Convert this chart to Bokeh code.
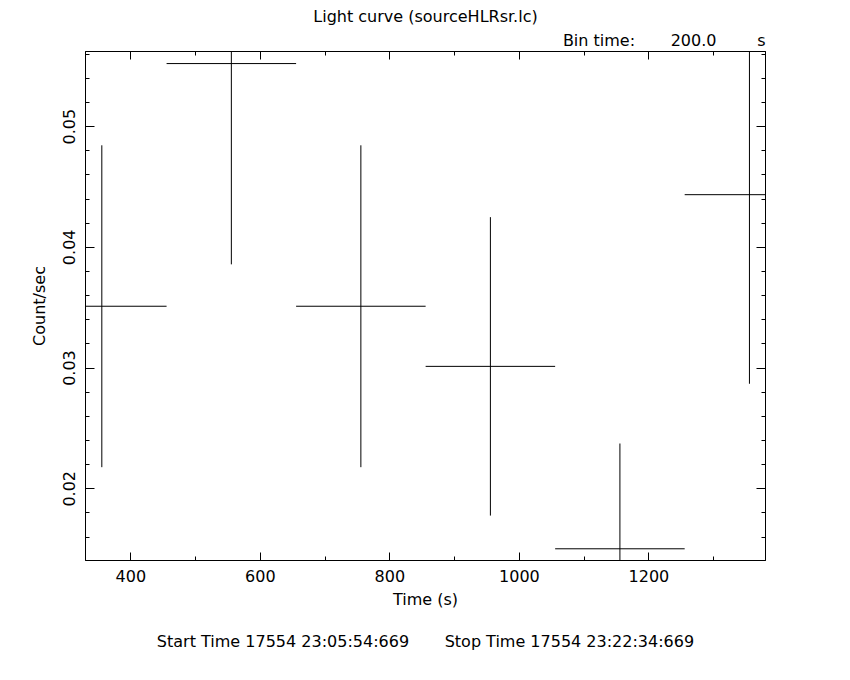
from bokeh.plotting import figure
from bokeh.models import (Range1d, LinearAxis, SingleIntervalTicker, Title,
                          CustomJSTickFormatter, PrintfTickFormatter, ColumnDataSource)
from bokeh.embed import file_html
from bokeh.resources import INLINE

# ---- data ----
bin_time = 200.0
time = [355.2, 555.2, 755.2, 955.2, 1155.2, 1355.2]
rate = [0.03512, 0.05522, 0.03512, 0.03014, 0.01503, 0.04436]
rate_err = [0.01333, 0.01663, 0.01333, 0.01236, 0.00872, 0.01566]

NB = "\u00a0"
title_text = "Light curve (sourceHLRsr.lc)"
bin_text = "Bin time:" + NB * 7 + "200.0" + NB * 8 + "s"
start_stop = "Start Time 17554 23:05:54:669" + NB * 7 + "Stop Time 17554 23:22:34:669"

FONT = "DejaVu Sans"
FS = "16px"

half = [bin_time / 2.0] * len(time)
src = ColumnDataSource(dict(
    t=time, r=rate,
    t0=[t - h for t, h in zip(time, half)], t1=[t + h for t, h in zip(time, half)],
    r0=[r - e for r, e in zip(rate, rate_err)], r1=[r + e for r, e in zip(rate, rate_err)],
))

p = figure(width=850, height=680,
           x_range=Range1d(330, 1380), y_range=Range1d(0.01406, 0.05622),
           output_backend="svg", toolbar_location=None,
           min_border_left=85, min_border_right=85, min_border_top=51, min_border_bottom=120,
           x_axis_label="Time (s)", y_axis_label="Count/sec")

p.grid.visible = False
p.outline_line_color = "black"
p.background_fill_color = "white"
p.border_fill_color = "white"

def style_axis(ax, ticker, labels=True, major_len=8, minor_len=4):
    ax.ticker = ticker
    ax.axis_line_color = "black"
    ax.major_tick_line_color = "black"
    ax.minor_tick_line_color = "black"
    ax.major_tick_in = major_len
    ax.major_tick_out = 0
    ax.minor_tick_in = minor_len
    ax.minor_tick_out = 0
    ax.major_label_text_font = FONT
    ax.major_label_text_font_size = FS
    ax.major_label_text_color = "black"
    ax.axis_label_text_font = FONT
    ax.axis_label_text_font_size = FS
    ax.axis_label_text_font_style = "normal"
    ax.axis_label_text_color = "black"
    if not labels:
        ax.formatter = CustomJSTickFormatter(code="return ''")
        ax.major_label_standoff = 0

xa = p.xaxis[0]
style_axis(xa, SingleIntervalTicker(interval=200, num_minor_ticks=2), major_len=8, minor_len=4)
xa.major_label_standoff = 9
xa.axis_label_standoff = 5

ya = p.yaxis[0]
style_axis(ya, SingleIntervalTicker(interval=0.01, num_minor_ticks=5), major_len=9, minor_len=4)
ya.formatter = PrintfTickFormatter(format="%.2f")
ya.major_label_orientation = "vertical"
ya.major_label_standoff = 10
ya.axis_label_standoff = 12

top = LinearAxis()
style_axis(top, SingleIntervalTicker(interval=200, num_minor_ticks=2), labels=False)
p.add_layout(top, "above")
right = LinearAxis()
style_axis(right, SingleIntervalTicker(interval=0.01, num_minor_ticks=5), labels=False, major_len=9)
p.add_layout(right, "right")

p.segment(x0="t", y0="r0", x1="t", y1="r1", source=src, line_color="black", line_width=1)
p.segment(x0="t0", y0="r", x1="t1", y1="r", source=src, line_color="black", line_width=1)

def title(text, align, loc, standoff):
    p.add_layout(Title(text=text, align=align, text_font=FONT, text_font_size=FS,
                       text_font_style="normal", text_color="black",
                       standoff=standoff), loc)

title(bin_text, "right", "above", 4)
title(title_text, "center", "above", 1)
title(start_stop, "center", "below", 37)

open("out.html", "w").write(file_html(p, INLINE))
